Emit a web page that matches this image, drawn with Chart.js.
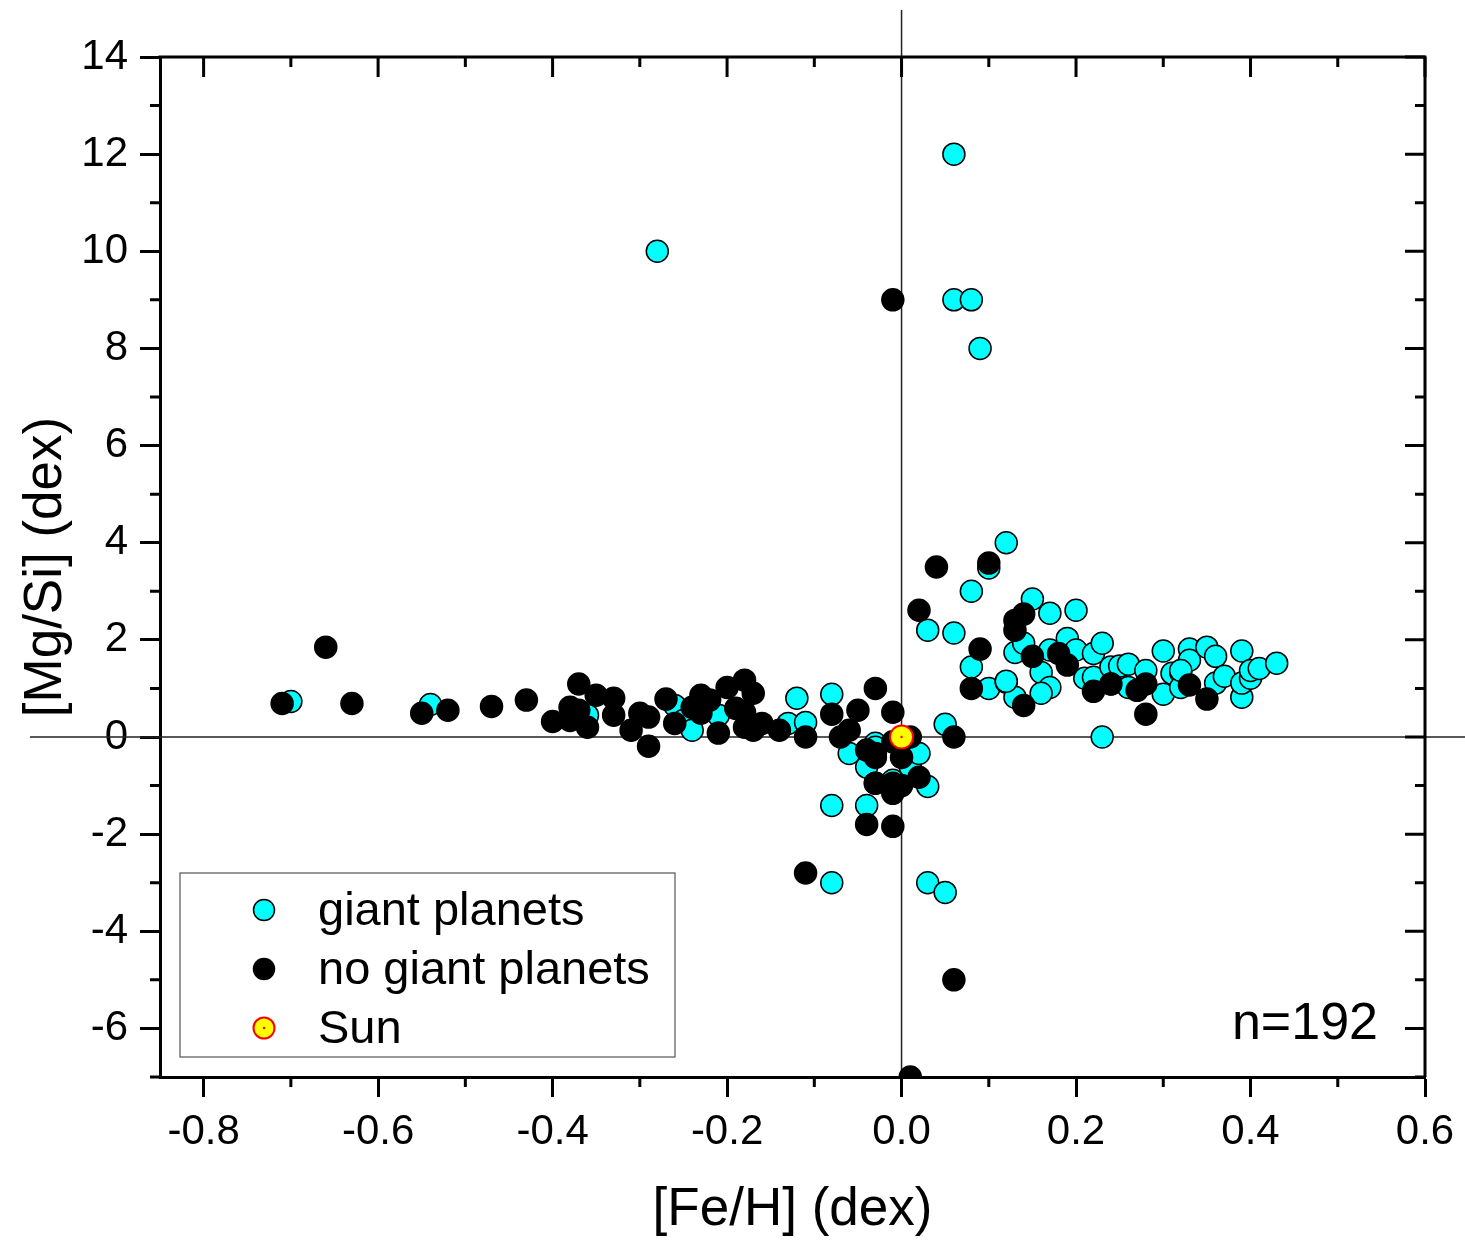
<!DOCTYPE html>
<html>
<head>
<meta charset="utf-8">
<script src="https://cdn.jsdelivr.net/npm/chart.js@4.4.1/dist/chart.umd.min.js"></script>
<style>
html,body{margin:0;padding:0;background:#fff;}
#wrap{width:1465px;height:1243px;}
</style>
</head>
<body>
<div id="wrap"><canvas id="c" width="1465" height="1243"></canvas></div>
<script>
// ---- data ----
const giantFeH = [-0.70,-0.54,-0.36,-0.26,-0.25,-0.24,-0.21,-0.13,-0.12,-0.11,-0.08,-0.06,-0.04,-0.03,-0.03,-0.01,0.01,0.02,0.03,-0.08,-0.04,-0.08,0.03,0.05,0.05,-0.28,0.06,0.06,0.08,0.09,0.12,0.10,0.08,0.03,0.06,0.08,0.10,0.12,0.15,0.17,0.20,0.13,0.14,0.16,0.17,0.17,0.16,0.13,0.19,0.20,0.22,0.23,0.21,0.22,0.24,0.25,0.26,0.24,0.23,0.28,0.26,0.30,0.30,0.31,0.32,0.33,0.33,0.32,0.35,0.36,0.36,0.37,0.39,0.39,0.39,0.40,0.40,0.41,0.43,0.12,0.32];
const giantMgSi = [0.73,0.67,0.45,0.65,0.34,0.14,0.45,0.28,0.80,0.30,0.88,-0.34,-0.62,-0.13,-0.21,-0.89,-0.62,-0.34,-1.02,-1.41,-1.41,-3.0,-3.0,-3.2,0.26,10.0,12.0,9.0,9.0,8.0,4.0,3.48,3.0,2.2,2.14,1.44,1.0,1.13,2.84,2.55,2.61,1.74,1.93,1.33,1.79,1.02,0.90,0.82,2.03,1.79,1.72,1.93,1.21,1.23,1.44,1.46,1.50,1.09,0.0,1.37,1.02,1.77,0.88,1.31,1.33,1.81,1.58,1.02,1.85,1.66,1.11,1.25,1.77,0.82,1.11,1.21,1.37,1.41,1.52,1.15,1.37];
const noGiantFeH = [-0.71,-0.66,-0.63,-0.55,-0.52,-0.47,-0.43,-0.40,-0.37,-0.38,-0.37,-0.38,-0.36,-0.35,-0.33,-0.33,-0.31,-0.30,-0.29,-0.29,-0.27,-0.26,-0.24,-0.23,-0.22,-0.23,-0.21,-0.20,-0.18,-0.17,-0.19,-0.18,-0.18,-0.16,-0.17,-0.14,-0.11,-0.08,-0.05,-0.06,-0.07,-0.03,-0.01,-0.03,-0.03,-0.01,-0.04,-0.03,-0.01,-0.01,0.00,-0.03,0.00,0.01,0.02,-0.01,-0.04,-0.01,-0.11,0.06,0.01,-0.01,0.04,0.10,0.02,0.09,0.08,0.06,0.14,0.13,0.13,0.15,0.14,0.18,0.19,0.22,0.24,0.27,0.28,0.28,0.33,0.35];
const noGiantMgSi = [0.69,1.85,0.69,0.49,0.55,0.63,0.76,0.32,1.09,0.61,0.55,0.34,0.20,0.86,0.80,0.45,0.14,0.49,0.41,-0.19,0.78,0.28,0.61,0.86,0.76,0.49,0.08,1.02,1.17,0.90,0.59,0.51,0.20,0.28,0.14,0.14,0.0,0.47,0.55,0.14,0.0,1.0,0.51,-0.34,-0.95,-1.10,-0.27,-0.42,-0.95,-1.16,-1.0,-0.95,-0.42,0.0,-0.83,-0.10,-1.80,-1.84,-2.8,-5.0,-7.0,9.0,3.50,3.58,2.61,1.81,1.0,0.0,2.53,2.40,2.20,1.66,0.65,1.72,1.48,0.94,1.09,0.96,1.09,0.47,1.07,0.78];
const sunFeH = [0.0];
const sunMgSi = [0.0];
const xTicks = [-0.8,-0.6,-0.4,-0.2,0.0,0.2,0.4,0.6];
const xMinor = [-0.7,-0.5,-0.3,-0.1,0.1,0.3,0.5];
const yTicks = [-6,-4,-2,0,2,4,6,8,10,12,14];
const yMinor = [-7,-5,-3,-1,1,3,5,7,9,11,13];
const seriesNames = ['giant planets','no giant planets','Sun'];
const sampleLabel = 'n=192';

const FONT = 'Arial, "Liberation Sans", sans-serif';
const toPts = (xs, ys) => xs.map((x, i) => ({x: x, y: ys[i]}));

const frame = {
  id: 'frame',
  beforeDatasetsDraw(chart) {
    const {ctx, scales: {x, y}, chartArea: a} = chart;
    ctx.save();
    ctx.strokeStyle = '#222';
    ctx.lineWidth = 1.5;
    const x0 = x.getPixelForValue(0), y0 = y.getPixelForValue(0);
    ctx.beginPath();
    ctx.moveTo(x0, 10); ctx.lineTo(x0, a.bottom);
    ctx.moveTo(30, y0); ctx.lineTo(1465, y0);
    ctx.stroke();
    ctx.restore();
  },
  afterDraw(chart) {
    const {ctx, scales: {x, y}, chartArea: a} = chart;
    ctx.save();
    ctx.strokeStyle = '#000';
    ctx.lineWidth = 3;
    ctx.beginPath();
    ctx.moveTo(a.left - 1.5, a.top); ctx.lineTo(a.right, a.top); ctx.lineTo(a.right, a.bottom);
    ctx.stroke();
    ctx.beginPath();
    xMinor.forEach(v => { const p = x.getPixelForValue(v); ctx.moveTo(p, a.bottom); ctx.lineTo(p, a.bottom + 10); ctx.moveTo(p, a.top); ctx.lineTo(p, a.top + 10); });
    yMinor.forEach(v => { const p = y.getPixelForValue(v); ctx.moveTo(a.left, p); ctx.lineTo(a.left - 10, p); ctx.moveTo(a.right, p); ctx.lineTo(a.right - 10, p); });
    xTicks.forEach(v => { const p = x.getPixelForValue(v); ctx.moveTo(p, a.top); ctx.lineTo(p, a.top + 20); });
    yTicks.forEach(v => { const p = y.getPixelForValue(v); ctx.moveTo(a.right, p); ctx.lineTo(a.right - 20, p); });
    ctx.stroke();

    const sm = chart.getDatasetMeta(2);
    sm.data.forEach(pt => { ctx.fillStyle = '#ff0000'; ctx.beginPath(); ctx.arc(pt.x, pt.y, 1.2, 0, Math.PI * 2); ctx.fill(); });

    ctx.lineWidth = 1.2;
    ctx.strokeStyle = '#555';
    ctx.strokeRect(180, 873, 495, 184);
    const rows = [910, 969, 1028];
    chart.data.datasets.forEach((ds, i) => {
      const cy = rows[i];
      ctx.beginPath();
      ctx.arc(264, cy, 10.5, 0, Math.PI * 2);
      ctx.fillStyle = ds.backgroundColor;
      ctx.fill();
      ctx.lineWidth = ds.borderWidth;
      ctx.strokeStyle = ds.borderColor;
      ctx.stroke();
      if (i === 2) { ctx.fillStyle = '#ff0000'; ctx.beginPath(); ctx.arc(264, cy, 1.2, 0, Math.PI * 2); ctx.fill(); }
      ctx.fillStyle = '#000';
      ctx.font = '47px ' + FONT;
      ctx.textBaseline = 'middle';
      ctx.textAlign = 'left';
      ctx.fillText(ds.label, 318, cy + 2);
    });
    ctx.font = '52px ' + FONT;
    ctx.textAlign = 'right';
    ctx.textBaseline = 'middle';
    ctx.fillText(sampleLabel, 1378, 1025);
    ctx.restore();
  }
};

new Chart(document.getElementById('c'), {
  type: 'scatter',
  data: {
    datasets: [
      {label: seriesNames[0], data: toPts(giantFeH, giantMgSi), backgroundColor: '#00ffff', borderColor: '#000', borderWidth: 1.5, pointRadius: 11, pointHoverRadius: 11, order: 3},
      {label: seriesNames[1], data: toPts(noGiantFeH, noGiantMgSi), backgroundColor: '#000000', borderColor: '#000', borderWidth: 1.5, pointRadius: 11, pointHoverRadius: 11, order: 2},
      {label: seriesNames[2], data: toPts(sunFeH, sunMgSi), backgroundColor: '#ffff00', borderColor: '#ff0000', borderWidth: 2, pointRadius: 11.5, pointHoverRadius: 11.5, order: 1}
    ]
  },
  options: {
    responsive: false,
    devicePixelRatio: 1,
    animation: false,
    events: [],
    layout: {padding: {left: 0, top: 57, right: 40, bottom: 0}},
    plugins: {legend: {display: false}, tooltip: {enabled: false}},
    scales: {
      x: {
        type: 'linear', min: -0.85, max: 0.6,
        afterBuildTicks: s => { s.ticks = xTicks.map(v => ({value: v})); },
        afterFit: s => { s.height = 166; },
        ticks: {color: '#000', font: {family: FONT, size: 42}, padding: 10, maxRotation: 0, callback: v => v.toFixed(1)},
        grid: {drawOnChartArea: false, tickLength: 20, tickWidth: 3, tickColor: '#000'},
        border: {display: true, width: 3, color: '#000'},
        title: {display: true, text: '[Fe/H] (dex)', color: '#000', font: {family: FONT, size: 53}, padding: {top: 0, bottom: 1}}
      },
      y: {
        type: 'linear', min: -7, max: 14,
        afterBuildTicks: s => { s.ticks = yTicks.map(v => ({value: v})); },
        afterFit: s => { s.width = 160; },
        ticks: {color: '#000', font: {family: FONT, size: 42}, padding: 12, callback: v => String(v)},
        grid: {drawOnChartArea: false, tickLength: 20, tickWidth: 3, tickColor: '#000'},
        border: {display: true, width: 3, color: '#000'},
        title: {display: true, text: '[Mg/Si] (dex)', color: '#000', font: {family: FONT, size: 53}, padding: {top: 15, bottom: 0}}
      }
    }
  },
  plugins: [frame]
});
</script>
</body>
</html>
